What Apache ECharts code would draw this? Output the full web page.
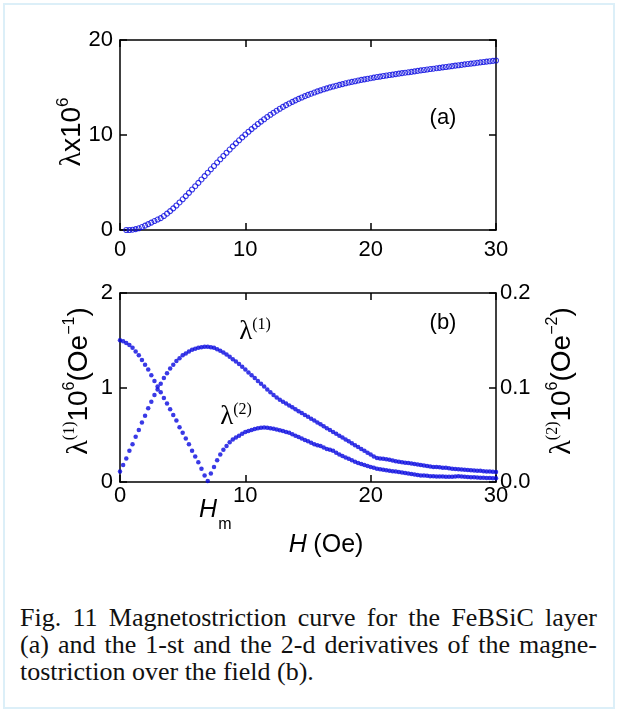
<!DOCTYPE html>
<html><head><meta charset="utf-8">
<script src="https://cdn.jsdelivr.net/npm/echarts/dist/echarts.min.js"></script>
<style>
html,body{margin:0;padding:0;background:#fff;}
#wrap{position:relative;width:618px;height:713px;overflow:hidden;}
#frame{position:absolute;left:3px;top:3px;width:608px;height:702px;border:2px solid #dceff8;}
#chart{position:absolute;left:0;top:0;width:618px;height:590px;}
#cap{position:absolute;left:20px;top:604px;width:577px;font-family:"Liberation Serif","Times New Roman",serif;font-size:26px;line-height:27px;color:#111;}
#cap .j{text-align:justify;text-align-last:justify;white-space:nowrap;}
#cap .l{text-align:left;white-space:nowrap;}
</style>
</head><body>
<div id="wrap"><div id="frame"></div><div id="chart"></div>
<div id="cap"><div class="j">Fig. 11 Magnetostriction curve for the FeBSiC layer</div><div class="j">(a) and the 1-st and the 2-d derivatives of the magne-</div><div class="l">tostriction over the field (b).</div></div></div>
<script>
// H grid (Oe), 0..30
const hGrid = [
 0,0.25,0.5,0.75, 1,1.25,1.5,1.75, 2,2.25,2.5,2.75, 3,3.25,3.5,3.75, 4,4.25,4.5,4.75,
 5,5.25,5.5,5.75, 6,6.25,6.5,6.75, 7,7.25,7.5,7.75, 8,8.25,8.5,8.75, 9,9.25,9.5,9.75,
 10,10.25,10.5,10.75, 11,11.25,11.5,11.75, 12,12.25,12.5,12.75, 13,13.25,13.5,13.75, 14,14.25,14.5,14.75,
 15,15.25,15.5,15.75, 16,16.25,16.5,16.75, 17,17.25,17.5,17.75, 18,18.25,18.5,18.75, 19,19.25,19.5,19.75,
 20,20.25,20.5,20.75, 21,21.25,21.5,21.75, 22,22.25,22.5,22.75, 23,23.25,23.5,23.75, 24,24.25,24.5,24.75,
 25,25.25,25.5,25.75, 26,26.25,26.5,26.75, 27,27.25,27.5,27.75, 28,28.25,28.5,28.75, 29,29.25,29.5,29.75, 30];

// (a) lambda x 1e6, for H = 0.5 .. 30
const lambdaA = [
 0.00,0.00, 0.03,0.09,0.18,0.31, 0.46,0.62,0.78,0.94, 1.10,1.25,1.47,1.72, 1.99,2.28,2.58,2.90,
 3.23,3.57,3.91,4.26, 4.61,4.96,5.32,5.67, 6.03,6.39,6.74,7.10, 7.45,7.79,8.13,8.47, 8.80,9.12,9.44,9.75,
 10.05,10.34,10.62,10.89, 11.16,11.41,11.66,11.90, 12.13,12.35,12.56,12.76, 12.96,13.14,13.32,13.49, 13.65,13.80,13.95,14.09,
 14.22,14.35,14.47,14.59, 14.70,14.81,14.91,15.01, 15.10,15.19,15.28,15.36, 15.44,15.52,15.59,15.66, 15.73,15.80,15.86,15.92,
 15.98,16.04,16.10,16.15, 16.21,16.26,16.31,16.36, 16.41,16.46,16.51,16.56, 16.60,16.65,16.70,16.75, 16.80,16.84,16.89,16.94,
 16.98,17.03,17.07,17.12, 17.16,17.21,17.25,17.30, 17.34,17.38,17.43,17.47, 17.51,17.55,17.60,17.64, 17.68,17.72,17.76,17.80, 17.84];

// (b) first derivative, left axis
const lambda1 = [
 0.11,0.18,0.25,0.33, 0.40,0.48,0.55,0.63, 0.70,0.78,0.85,0.92, 0.98,1.04,1.10,1.15, 1.20,1.24,1.28,1.31,
 1.34,1.36,1.38,1.40, 1.41,1.42,1.425,1.43, 1.43,1.425,1.42,1.405, 1.39,1.37,1.35,1.325, 1.30,1.275,1.25,1.22,
 1.19,1.16,1.13,1.10, 1.07,1.04,1.01,0.98, 0.95,0.92,0.895,0.87, 0.85,0.83,0.81,0.79, 0.77,0.75,0.73,0.71,
 0.69,0.67,0.65,0.63, 0.61,0.59,0.57,0.55, 0.53,0.51,0.49,0.47, 0.45,0.43,0.41,0.39, 0.37,0.35,0.33,0.31,
 0.29,0.27,0.255,0.25, 0.245,0.24,0.235,0.228, 0.22,0.215,0.21,0.205, 0.20,0.195,0.19,0.185, 0.18,0.175,0.17,0.165,
 0.16,0.158,0.155,0.152, 0.15,0.145,0.14,0.138, 0.135,0.132,0.13,0.128, 0.125,0.122,0.12,0.118, 0.115,0.112,0.11,0.108, 0.105];

// (b) second derivative (absolute value), right axis
const lambda2 = [
 0.150,0.149,0.147,0.145, 0.142,0.138,0.134,0.129, 0.124,0.119,0.113,0.107, 0.101,0.095,0.089,0.083, 0.077,0.071,0.065,0.058,
 0.052,0.046,0.040,0.033, 0.027,0.021,0.014,0.007, 0.001,0.009,0.016,0.023, 0.029,0.034,0.038,0.042, 0.045,0.047,0.049,0.051,
 0.053,0.054,0.055,0.056, 0.057,0.0575,0.0578,0.0575, 0.057,0.0563,0.0555,0.0548, 0.054,0.053,0.052,0.0505, 0.049,0.0475,0.046,0.0445,
 0.043,0.0415,0.040,0.039, 0.038,0.0365,0.035,0.034, 0.033,0.031,0.029,0.0275, 0.026,0.0245,0.023,0.0215, 0.020,0.019,0.018,0.017,
 0.016,0.015,0.014,0.0135, 0.013,0.0125,0.012,0.0115, 0.011,0.0105,0.010,0.0095, 0.009,0.0085,0.008,0.0075, 0.007,0.0068,0.0065,0.0062,
 0.006,0.0059,0.0058,0.0057, 0.0055,0.0055,0.0056,0.0058, 0.006,0.0058,0.0055,0.0052, 0.005,0.0049,0.0048,0.0046, 0.0045,0.0043,0.0042,0.0041, 0.004];

const xTicksA = [0, 10, 20, 30];
const yTicksA = [0, 10, 20];
const yTicksB1 = [0, 1, 2];
const yTicksB2 = [0.0, 0.1, 0.2];

const BLUE = '#0808e0';
const SANS = 'Liberation Sans, Arial, sans-serif';
const SERIF = 'Liberation Serif, Times New Roman, serif';

const chart = echarts.init(document.getElementById('chart'), null, {renderer: 'canvas'});

function axisBase(showLabel, margin) {
  return {
    type: 'value',
    axisLine: {show: true, onZero: false, lineStyle: {color: '#000', width: 1.5}},
    axisTick: {show: true, inside: true, length: 7, lineStyle: {color: '#000', width: 1.5}},
    splitLine: {show: false},
    axisLabel: {show: showLabel, color: '#000', fontSize: 22, fontFamily: SANS, margin: margin}
  };
}
function xAx(grid, pos, show, margin) {
  return Object.assign(axisBase(show, margin), {gridIndex: grid, position: pos, min: xTicksA[0], max: xTicksA[xTicksA.length - 1], interval: 10});
}
function yAx(grid, pos, show, ticks, margin, fmt) {
  const a = Object.assign(axisBase(show, margin), {gridIndex: grid, position: pos, min: ticks[0], max: ticks[ticks.length - 1], interval: ticks[1] - ticks[0]});
  if (fmt) a.axisLabel.formatter = fmt;
  return a;
}

const dataA = lambdaA.map((v, i) => [hGrid[i + 2], v]);
const dataB1 = lambda1.map((v, i) => [hGrid[i], v]);
const dataB2 = lambda2.map((v, i) => [hGrid[i], v]);

function rt(x, y, text, rich, extra) {
  return Object.assign({type: 'text', x: x, y: y, silent: true,
    style: {text: text, rich: rich, align: 'center', verticalAlign: 'middle', fill: '#000'}}, extra || {});
}

const supS = (fs, ff) => ({fontSize: fs, fontFamily: ff, verticalAlign: 'top', lineHeight: fs, fill: '#000'});

chart.setOption({
  animation: false,
  backgroundColor: 'transparent',
  grid: [
    {left: 120, top: 40, width: 376, height: 190},
    {left: 120, top: 293, width: 376, height: 189}
  ],
  xAxis: [
    xAx(0, 'bottom', true, 9),
    xAx(0, 'top', false, 8),
    xAx(1, 'bottom', true, 3),
    xAx(1, 'top', false, 8)
  ],
  yAxis: [
    yAx(0, 'left', true, yTicksA, 7),
    yAx(0, 'right', false, yTicksA, 7),
    yAx(1, 'left', true, yTicksB1, 7),
    yAx(1, 'right', true, yTicksB2, 4, v => v.toFixed(1))
  ],
  series: [
    {type: 'scatter', xAxisIndex: 0, yAxisIndex: 0, data: dataA, symbol: 'circle', symbolSize: 5,
     itemStyle: {color: 'transparent', borderColor: BLUE, borderWidth: 1.1}},
    {type: 'scatter', xAxisIndex: 2, yAxisIndex: 2, data: dataB1, symbol: 'circle', symbolSize: 4.5,
     itemStyle: {color: BLUE}},
    {type: 'scatter', xAxisIndex: 2, yAxisIndex: 3, data: dataB2, symbol: 'circle', symbolSize: 4.5,
     itemStyle: {color: BLUE}}
  ],
  graphic: [
    rt(72, 132, '{l|λ}{n|x10}{s|6}', {
      l: {fontSize: 30, fontFamily: SERIF, lineHeight: 34, fill: '#000'},
      n: {fontSize: 28, fontFamily: SANS, lineHeight: 34, fill: '#000'},
      s: supS(17, SANS)}, {rotation: Math.PI / 2}),
    rt(79, 381, '{l|λ}{s|(1)}{n|10}{s2|6}{n|(Oe}{s2|−1}{n|)}', {
      l: {fontSize: 30, fontFamily: SERIF, lineHeight: 34, fill: '#000'},
      n: {fontSize: 28, fontFamily: SANS, lineHeight: 34, fill: '#000'},
      s: supS(16, SERIF),
      s2: supS(16, SANS)}, {rotation: Math.PI / 2}),
    rt(562, 381, '{l|λ}{s|(2)}{n|10}{s2|6}{n|(Oe}{s2|−2}{n|)}', {
      l: {fontSize: 30, fontFamily: SERIF, lineHeight: 34, fill: '#000'},
      n: {fontSize: 28, fontFamily: SANS, lineHeight: 34, fill: '#000'},
      s: supS(16, SERIF),
      s2: supS(16, SANS)}, {rotation: Math.PI / 2}),
    rt(443, 118, '(a)', null, {style: {text: '(a)', font: '22px ' + SANS, align: 'center', verticalAlign: 'middle', fill: '#000'}}),
    rt(443, 323, '(b)', null, {style: {text: '(b)', font: '22px ' + SANS, align: 'center', verticalAlign: 'middle', fill: '#000'}}),
    rt(255, 332, '{l|λ}{s|(1)}', {
      l: {fontSize: 27, fontFamily: SERIF, lineHeight: 30, fill: '#000'},
      s: supS(16, SERIF)}),
    rt(236, 417, '{l|λ}{s|(2)}', {
      l: {fontSize: 27, fontFamily: SERIF, lineHeight: 30, fill: '#000'},
      s: supS(16, SERIF)}),
    {type: 'text', x: 208, y: 510, silent: true,
     style: {text: 'H', font: 'italic 25px ' + SANS, align: 'center', verticalAlign: 'middle', fill: '#000'}},
    {type: 'text', x: 225, y: 525, silent: true,
     style: {text: 'm', font: '16px ' + SANS, align: 'center', verticalAlign: 'middle', fill: '#000'}},
    rt(326, 545, '{i|H}  {n|(Oe)}', {
      i: {fontSize: 25, fontFamily: SANS, fontStyle: 'italic', fill: '#000'},
      n: {fontSize: 25, fontFamily: SANS, fill: '#000'}})
  ]
});
</script>
</body></html>
